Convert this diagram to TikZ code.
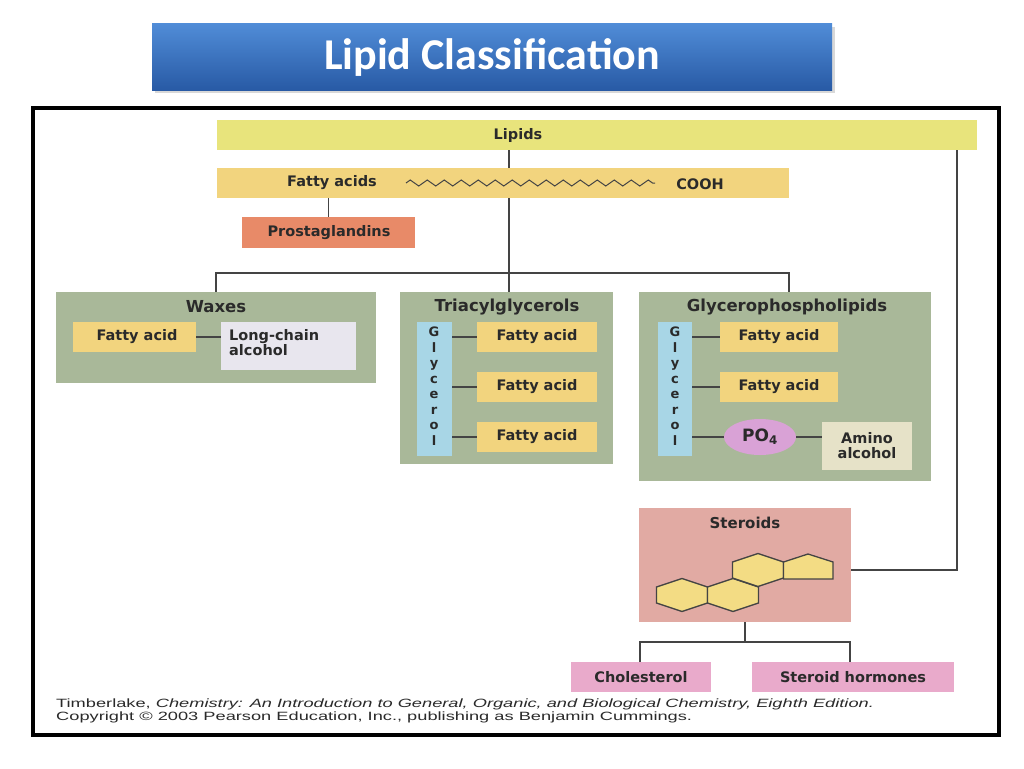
\documentclass[tikz,border=0pt]{standalone}
\usepackage{fontspec}
\usepackage{graphicx}
\setmainfont{DejaVu Sans}
\newfontfamily\titlefont{Carlito}
\newfontfamily\footfont{Liberation Sans}
\usetikzlibrary{decorations.pathmorphing,shadows,shapes.geometric}
\definecolor{lipy}{HTML}{E8E47C}
\definecolor{fay}{HTML}{F2D47E}
\definecolor{prost}{HTML}{E88A68}
\definecolor{grn}{HTML}{A9B899}
\definecolor{glyc}{HTML}{A8D6E6}
\definecolor{lca}{HTML}{E8E6EE}
\definecolor{po}{HTML}{D9A2D6}
\definecolor{amino}{HTML}{E6E2C8}
\definecolor{ster}{HTML}{E1AAA3}
\definecolor{pinkb}{HTML}{E9AACB}
\definecolor{hexy}{HTML}{F3DC84}
\definecolor{txt}{HTML}{2A2A2A}
\definecolor{ln}{HTML}{444444}
\tikzset{
 box/.style={draw=none,inner sep=0pt,text=txt,font=\fontsize{14.5}{16}\selectfont\bfseries},
 ttl/.style={box,font=\fontsize{16.5}{18}\selectfont\bfseries},
 conn/.style={draw=ln,line width=1.4pt},
 hex/.style={draw=ln,line width=1.3pt,fill=hexy}
}
\newcommand{\rbox}[6]{% name, x1,y1,x2,y2, fill
 \path[fill=#6] (#2,#3) rectangle (#4,#5);
 \node[inner sep=0pt] (#1) at ({(#2+#4)/2},{(#3+#5)/2}) [minimum width={#4-#2},minimum height={#5-#3}] {};}
\begin{document}
\begin{tikzpicture}[x=1pt,y=-1pt]
\useasboundingbox (0,0) rectangle (1024,768);
\fill[white] (0,0) rectangle (1024,768);
% title banner
\shade[top color={rgb,255:red,80;green,140;blue,215},bottom color={rgb,255:red,40;green,90;blue,165},drop shadow={opacity=0.3}] (152,24) rectangle (832,90);
\node[text=white,font=\titlefont\fontsize{44}{48}\selectfont\bfseries] (title) at (492,57) {Lipid Classification};
% frame
\draw[line width=4pt] (33,108) rectangle (999,735);
% boxes
\rbox{lipids}{217}{120}{977}{150}{lipy}
\node[box] at (518,135) {Lipids};
\rbox{fa}{217}{168}{789}{198}{fay}
\node[box] (fatext) at (332,183) {Fatty acids};
\node[box] (cooh) at (700,184) {COOH};
\draw[ln,line width=1pt,decorate,decoration={zigzag,amplitude=3pt,segment length=17pt}] (406,183) -- (655,183);
\rbox{prost}{242}{217}{415}{248}{prost}
\node[box] at (329,233) {Prostaglandins};
% waxes
\rbox{wax}{56}{292}{376}{383}{grn}
\node[ttl] at (216,307) {Waxes};
\rbox{wfa}{73}{322}{196}{352}{fay}
\node[box] at (137,337) {Fatty acid};
\rbox{lca}{221}{322}{356}{370}{lca}
\node[box,align=left,anchor=north west] at (229,329) {Long-chain\\[-1pt]alcohol};
\draw[conn] (wfa.east) -- (lca.west|-wfa.east);
% triacylglycerols
\rbox{tag}{400}{292}{613}{464}{grn}
\node[ttl] at (507,307) {Triacylglycerols};
\rbox{g1}{417}{322}{452}{456}{glyc}
\node[box,align=center,font=\fontsize{13}{15.5}\selectfont\bfseries] at (434,386) {G\\l\\y\\c\\e\\r\\o\\l};
\rbox{t1}{477}{322}{597}{352}{fay}
\rbox{t2}{477}{372}{597}{402}{fay}
\rbox{t3}{477}{422}{597}{452}{fay}
\foreach \n in {t1,t2,t3}{\node[box] at (\n) {Fatty acid}; \draw[conn] (g1.east|-\n.west) -- (\n.west);}
% glycerophospholipids
\rbox{gpl}{639}{292}{931}{481}{grn}
\node[ttl] at (787,307) {Glycerophospholipids};
\rbox{g2}{658}{322}{692}{456}{glyc}
\node[box,align=center,font=\fontsize{13}{15.5}\selectfont\bfseries] at (675,386) {G\\l\\y\\c\\e\\r\\o\\l};
\rbox{p1}{720}{322}{838}{352}{fay}
\rbox{p2}{720}{372}{838}{402}{fay}
\foreach \n in {p1,p2}{\node[box] at (\n) {Fatty acid}; \draw[conn] (g2.east|-\n.west) -- (\n.west);}
\node[box,ellipse,fill=po,minimum width=72pt,minimum height=36pt,font=\fontsize{17}{19}\selectfont\bfseries] (po4) at (760,437) {PO$_{\mathbf 4}$};
\draw[conn] (g2.east|-po4.west) -- (po4.west);
\rbox{amino}{822}{422}{912}{470}{amino}
\node[box,align=center] at (867,446) {Amino\\[-1pt]alcohol};
\draw[conn] (po4.east) -- (amino.west|-po4.east);
% steroids
\rbox{ster}{639}{508}{851}{622}{ster}
\node[box,font=\fontsize{15}{17}\selectfont\bfseries] at (745,523) {Steroids};
\foreach \cx/\cy in {682/595,733/595,758/570}{
 \draw[hex] (\cx,\cy-16.5) -- (\cx+25.5,\cy-8) -- (\cx+25.5,\cy+8) -- (\cx,\cy+16.5) -- (\cx-25.5,\cy+8) -- (\cx-25.5,\cy-8) -- cycle;}
\draw[hex] (783.5,562) -- (808,554) -- (833,562) -- (833,579) -- (783.5,579) -- cycle;
\rbox{chol}{571}{662}{711}{692}{pinkb}
\node[box] at (641,677) {Cholesterol};
\rbox{sh}{752}{662}{954}{692}{pinkb}
\node[box] at (853,677) {Steroid hormones};
% connectors
\coordinate (x509) at (509,0);
\draw[conn] (lipids.south-|x509) -- (fa.north-|x509);
\draw[conn] (fa.south-|x509) -- (tag.north-|x509);
\draw[conn] (fa.south-|prost.north) -- (prost.north);
\coordinate (hb) at (216,273);
\coordinate (hr) at (789,273);
\draw[conn] (wax.north-|hb) -- (hb) -- (hr) -- (gpl.north-|hr);
\coordinate (rr) at (957,570);
\draw[conn] (ster.east|-rr) -- (rr) -- (lipids.south-|rr);
\coordinate (sb) at (745,642);
\coordinate (sl) at (640,642);
\coordinate (sr) at (850,642);
\draw[conn] (ster.south) -- (sb);
\draw[conn] (chol.north-|sl) -- (sl) -- (sr) -- (sh.north-|sr);
% footer
\node[anchor=west,inner sep=0pt,text=txt,font=\footfont\fontsize{12}{13}\selectfont] (f1) at (56,704) {\scalebox{1.52}[1]{Timberlake, \textit{Chemistry: An Introduction to General, Organic, and Biological Chemistry, Eighth Edition.}}};
\node[anchor=west,inner sep=0pt,text=txt,font=\footfont\fontsize{12}{13}\selectfont] (f2) at (56,717) {\scalebox{1.52}[1]{Copyright \textcopyright{} 2003 Pearson Education, Inc., publishing as Benjamin Cummings.}};
\end{tikzpicture}
\end{document}
